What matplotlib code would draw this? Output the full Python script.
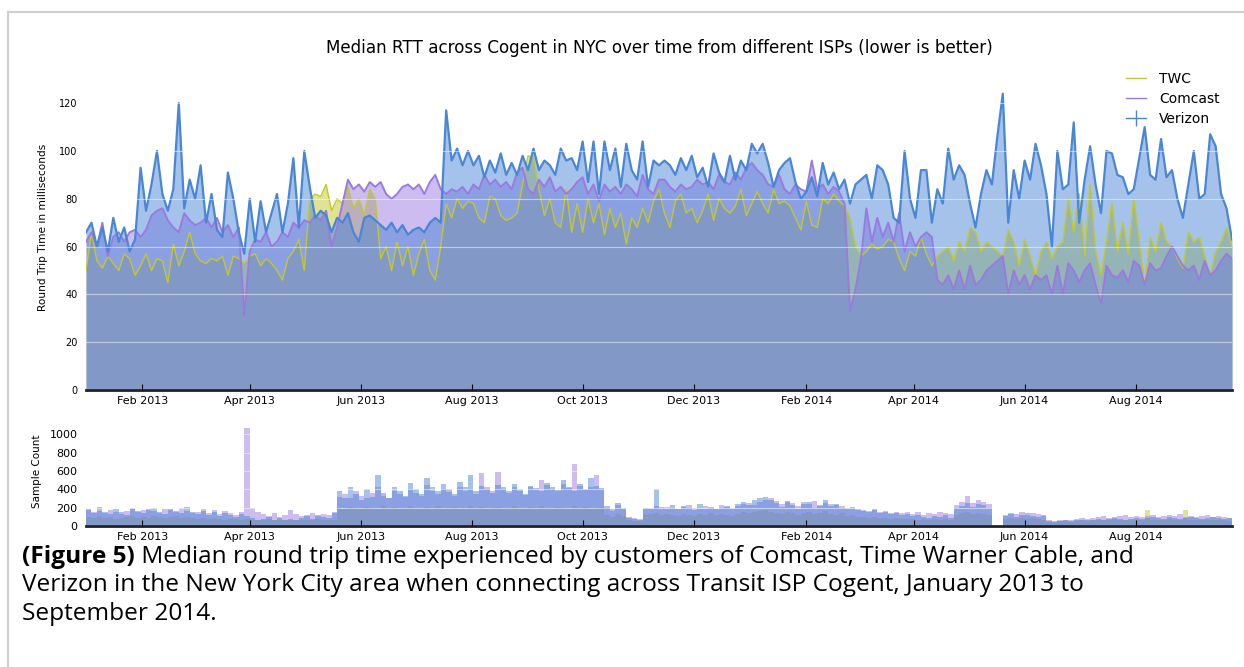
import pandas as pd
import matplotlib
matplotlib.use('Agg')
import matplotlib.pyplot as plt
import matplotlib.dates as mdates
from matplotlib.lines import Line2D

# one reading every 3 days, starting 1 Jan 2013
dates = pd.date_range('2013-01-01', periods=211, freq='3D')

# median RTT (ms)
twc = [50, 66, 54, 51, 56, 53, 50, 57, 55, 48,
       52, 57, 50, 55, 54, 45, 61, 52, 58, 66,
       57, 54, 53, 55, 54, 56, 48, 56, 55, 53,
       56, 57, 52, 55, 53, 50, 46, 55, 58, 63,
       50, 80, 82, 81, 86, 75, 80, 78, 85, 76,
       80, 73, 84, 80, 55, 60, 50, 62, 52, 60,
       48, 57, 63, 50, 46, 60, 78, 72, 80, 76,
       79, 78, 72, 70, 81, 80, 73, 71, 72, 74,
       86, 98, 97, 84, 73, 80, 70, 68, 84, 66,
       78, 66, 80, 70, 78, 65, 76, 68, 74, 61,
       72, 68, 76, 70, 79, 84, 74, 68, 79, 82,
       74, 76, 70, 75, 82, 71, 80, 76, 74, 77,
       84, 73, 78, 83, 78, 74, 84, 78, 79, 77,
       72, 67, 79, 69, 68, 80, 78, 82, 79, 77,
       72, 60, 56, 58, 61, 59, 60, 63, 62, 55,
       50, 58, 56, 64, 57, 52, 56, 58, 60, 54,
       62, 58, 68, 66, 58, 62, 60, 58, 56, 67,
       62, 52, 63, 56, 48, 58, 62, 55, 60, 62,
       80, 66, 82, 56, 86, 58, 48, 62, 78, 58,
       70, 57, 80, 62, 44, 64, 58, 70, 62, 60,
       55, 51, 66, 62, 64, 56, 48, 58, 62, 68,
       60]
comcast = [62, 66, 60, 70, 56, 64, 66, 62, 66, 67,
           64, 67, 73, 75, 76, 71, 68, 66, 74, 71,
           69, 70, 72, 68, 72, 66, 69, 64, 68, 31,
           58, 63, 62, 66, 60, 62, 66, 64, 70, 68,
           71, 70, 73, 71, 75, 60, 68, 78, 88, 84,
           86, 83, 87, 85, 87, 82, 80, 82, 85, 86,
           84, 86, 82, 87, 90, 84, 82, 84, 83, 85,
           82, 86, 84, 90, 86, 88, 85, 87, 84, 91,
           93, 84, 82, 88, 85, 89, 83, 85, 82, 84,
           87, 89, 82, 86, 79, 86, 83, 85, 82, 86,
           84, 81, 90, 84, 82, 88, 88, 85, 83, 86,
           84, 85, 88, 86, 87, 84, 90, 87, 86, 91,
           88, 93, 95, 92, 90, 86, 85, 90, 84, 82,
           86, 84, 83, 96, 84, 86, 82, 85, 83, 78,
           33, 42, 55, 76, 62, 72, 64, 70, 62, 74,
           58, 66, 60, 64, 66, 64, 46, 44, 48, 42,
           50, 42, 52, 44, 46, 50, 52, 54, 56, 40,
           50, 44, 48, 42, 48, 46, 48, 40, 52, 40,
           53, 50, 45, 50, 53, 44, 36, 52, 48, 47,
           50, 45, 54, 52, 44, 53, 50, 51, 56, 60,
           56, 52, 50, 52, 46, 54, 48, 50, 54, 57,
           55]
verizon = [66, 70, 60, 68, 58, 72, 62, 68, 58, 63,
           93, 75, 86, 100, 82, 75, 84, 120, 76, 88,
           80, 94, 70, 82, 67, 64, 91, 80, 66, 57,
           80, 62, 79, 66, 74, 82, 66, 78, 97, 68,
           100, 85, 72, 75, 73, 66, 72, 70, 74, 66,
           62, 72, 73, 71, 69, 67, 70, 66, 69, 65,
           67, 68, 66, 70, 72, 70, 117, 96, 101, 94,
           100, 94, 98, 89, 96, 91, 99, 90, 95, 90,
           98, 92, 101, 92, 96, 94, 90, 101, 96, 97,
           92, 104, 87, 104, 82, 104, 92, 101, 85, 103,
           92, 88, 104, 85, 96, 94, 96, 94, 90, 97,
           92, 98, 89, 93, 85, 99, 91, 87, 98, 88,
           96, 92, 103, 99, 103, 95, 85, 92, 95, 97,
           87, 80, 83, 89, 81, 95, 86, 91, 84, 88,
           78, 86, 88, 90, 80, 94, 92, 86, 72, 70,
           100, 80, 72, 92, 92, 70, 84, 78, 101, 88,
           94, 90, 78, 68, 82, 92, 86, 106, 124, 70,
           92, 80, 96, 88, 103, 94, 82, 60, 100, 84,
           86, 112, 70, 88, 102, 86, 74, 100, 99, 90,
           89, 82, 84, 97, 110, 90, 88, 105, 89, 92,
           80, 72, 86, 100, 80, 82, 107, 102, 82, 76,
           63]

# sample counts per reading
verizon_n = [170, 140, 210, 150, 130, 180, 150, 120, 190, 160,
             140, 170, 200, 150, 130, 180, 160, 140, 210, 150,
             130, 160, 120, 150, 110, 140, 120, 100, 130, 110,
             90, 70, 80, 100, 70, 90, 60, 80, 70, 90,
             110, 80, 120, 100, 90, 140,
             380, 300, 420, 350, 280, 400, 320, 560, 360, 300,
             420, 380, 330, 470, 400, 350, 520, 420, 380, 460,
             400, 350, 480, 420, 560, 380, 440, 400, 360, 450,
             420, 380, 460, 400, 350, 440, 410, 380, 470, 420,
             390, 500, 430, 380, 460, 400, 520, 440, 410,
             220, 180, 250, 200, 90, 80, 70,
             200, 180, 400, 210, 190, 230, 180, 220, 200, 170,
             240, 190, 210, 180, 200, 220, 190, 240, 260, 230,
             280, 300, 320, 280, 250, 210, 270, 230, 190,
             240, 260, 200, 230, 280, 220, 240, 200, 180, 210,
             170, 160, 150, 170, 140, 150, 130, 140, 120, 130,
             110, 120, 100, 90, 110, 100, 120, 90,
             200, 220, 250, 210, 240, 230, 200,
             0, 0,
             110, 130, 100, 120, 140, 110, 100, 120,
             50, 40, 50, 60, 50, 60, 70, 60, 70, 80,
             70, 80, 90, 80, 70, 80, 90, 80, 90, 100,
             90, 80, 100, 90, 80, 90, 100, 90, 80, 90,
             100, 90, 80, 90, 80]
comcast_n = [180, 150, 160, 140, 170, 150, 130, 160, 200, 150,
             170, 190, 160, 140, 180, 170, 150, 200, 160, 140,
             150, 180, 140, 170, 130, 160, 140, 120, 150, 1065,
             200, 150, 130, 110, 140, 100, 120, 170, 130, 110,
             120, 140, 110, 130, 120, 150,
             320, 350, 300, 380, 330, 300, 360, 420, 330, 310,
             380, 350, 320, 400, 360, 330, 450, 380, 350, 400,
             370, 330, 420, 380, 400, 350, 580, 420, 380, 590,
             400, 360, 420, 380, 340, 430, 390, 500, 450, 400,
             380, 460, 410, 680, 440, 390, 430, 560, 400,
             200, 160, 230, 190, 100, 90, 80,
             180, 200, 220, 190, 210, 200, 190, 210, 230, 200,
             180, 220, 200, 190, 230, 210, 200, 220, 240, 250,
             230, 260, 280, 300, 270, 240, 260, 250, 220,
             260, 240, 270, 220, 250, 240, 230, 220, 200, 190,
             180, 170, 160, 180, 150, 160, 140, 150, 140, 150,
             130, 150, 120, 140, 130, 150, 140, 130,
             230, 260, 330, 250, 280, 260, 240,
             0, 0,
             120, 140, 130, 150, 120, 140, 130, 110,
             60, 50, 60, 70, 60, 80, 90, 80, 90, 100,
             110, 90, 100, 110, 120, 100, 110, 100, 110, 120,
             100, 110, 120, 110, 130, 100, 110, 100, 110, 120,
             100, 110, 100, 90, 100]
twc_n = [100, 90, 110, 90, 100, 80, 90, 100, 110, 90,
         100, 90, 110, 100, 90, 100, 110, 90, 100, 90,
         80, 90, 80, 90, 80, 70, 80, 80, 70, 80,
         70, 60, 70, 80, 60, 70, 60, 70, 60, 70,
         70, 60, 80, 70, 60, 70,
         200, 190, 210, 200, 180, 210, 200, 190, 220, 200,
         210, 190, 200, 220, 200, 190, 210, 200, 220, 190,
         200, 210, 190, 200, 220, 200, 210, 190, 200, 210,
         190, 200, 220, 200, 190, 210, 200, 220, 200, 190,
         210, 200, 190, 220, 200, 210, 190, 200, 210,
         120, 100, 130, 110, 60, 50, 50,
         120, 130, 140, 120, 130, 120, 110, 130, 120, 110,
         130, 120, 140, 120, 130, 120, 110, 130, 150, 140,
         150, 160, 170, 150, 140, 130, 150, 140, 120,
         140, 150, 130, 140, 160, 130, 120, 140, 110, 120,
         100, 100, 90, 100, 90, 90, 80, 90, 80, 80,
         80, 70, 80, 70, 80, 70, 80, 70,
         120, 140, 150, 130, 140, 130, 120,
         0, 0,
         80, 90, 80, 90, 80, 90, 80, 70,
         40, 40, 50, 50, 40, 50, 60, 50, 60, 70,
         60, 70, 80, 60, 70, 60, 70, 60, 170, 70,
         60, 70, 80, 60, 70, 170, 60, 70, 60, 70,
         60, 70, 60, 50, 60]

names = ['TWC', 'Comcast', 'Verizon']
colors = ['#c3c82a', '#9a7ae0', '#4a86d6']
widths = [1.0, 1.4, 1.6]

fig = plt.figure(figsize=(12.44, 6.67), dpi=100)

# grey frame around the figure
fig.add_artist(Line2D([8/1244, 8/1244], [0, 1 - 12/667], color='#cfcfcf', lw=1.5))
fig.add_artist(Line2D([8/1244, 1], [1 - 12/667, 1 - 12/667], color='#cfcfcf', lw=1.5))

ax = fig.add_axes([86/1244, 277/667, 1146/1244, 326/667])
for vals, col, lw in zip([twc, comcast, verizon], colors, widths):
    ax.plot(dates, vals, color=col, lw=lw)
    ax.fill_between(dates, 0, vals, color=col, alpha=0.5, lw=0)

ax.set_xlim(dates[0], dates[-1])
ax.set_ylim(0, 136.4)
ax.set_yticks(range(0, 121, 20))
ax.yaxis.grid(True, color='white', lw=0.8, alpha=0.5)
ax.set_axisbelow(False)
for s in ['top', 'right', 'left']:
    ax.spines[s].set_visible(False)
ax.spines['bottom'].set_linewidth(2)
ax.spines['bottom'].set_color('#222222')
ax.xaxis.set_major_locator(mdates.MonthLocator(bymonth=[2, 4, 6, 8, 10, 12]))
ax.xaxis.set_major_formatter(mdates.DateFormatter('%b %Y'))
ax.tick_params(axis='x', direction='in', length=4, labelsize=8, pad=4)
ax.tick_params(axis='y', length=0, labelsize=7, pad=6)
ax.set_ylabel('Round Trip Time in milliseconds', fontsize=7.6)
ax.yaxis.set_label_coords(-0.033, 0.5)
ax.text(0.5, 1.049, 'Median RTT across Cogent in NYC over time from different ISPs (lower is better)',
        transform=ax.transAxes, ha='center', va='center', fontsize=12.1)

handles = [Line2D([], [], color=colors[0], lw=1),
           Line2D([], [], color=colors[1], lw=1),
           Line2D([], [], color=colors[2], lw=1, marker='|', markersize=11)]
ax.legend(handles, names, loc='upper right', bbox_to_anchor=(1.0, 1.015), frameon=False,
          fontsize=10, handlelength=1.5, handletextpad=0.9, labelspacing=0.45)

# sample counts
ax2 = fig.add_axes([86/1244, 141/667, 1146/1244, 101/667])
for vals, col in zip([twc_n, comcast_n, verizon_n], colors):
    ax2.bar(dates, vals, width=3, align='edge', color=col, alpha=0.5, lw=0)
ax2.set_xlim(dates[0], dates[-1])
ax2.set_ylim(0, 1100)
ax2.set_yticks(range(0, 1001, 200))
ax2.yaxis.grid(True, color='white', lw=0.8, alpha=0.5)
ax2.set_axisbelow(False)
for s in ['top', 'right', 'left']:
    ax2.spines[s].set_visible(False)
ax2.spines['bottom'].set_linewidth(2)
ax2.spines['bottom'].set_color('#222222')
ax2.xaxis.set_major_locator(mdates.MonthLocator(bymonth=[2, 4, 6, 8, 10, 12]))
ax2.xaxis.set_major_formatter(mdates.DateFormatter('%b %Y'))
ax2.tick_params(axis='x', direction='in', length=4, labelsize=8, pad=4)
ax2.tick_params(axis='y', length=0, labelsize=8, pad=6)
ax2.set_ylabel('Sample Count', fontsize=7.5)
ax2.yaxis.set_label_coords(-0.038, 0.545)

# caption
cap = dict(fontsize=17.6, family='Open Sans', va='baseline')
t = fig.text(22/1244, 1 - 563/667, '(Figure 5)', fontweight='bold', **cap)
fig.canvas.draw()
bb = t.get_window_extent()
fig.text(bb.x1/1244, 1 - 563/667,
         ' Median round trip time experienced by customers of Comcast, Time Warner Cable, and', **cap)
fig.text(22/1244, 1 - 591/667,
         'Verizon in the New York City area when connecting across Transit ISP Cogent, January 2013 to', **cap)
fig.text(22/1244, 1 - 620/667, 'September 2014.', **cap)

fig.savefig('out.png', dpi=100)
